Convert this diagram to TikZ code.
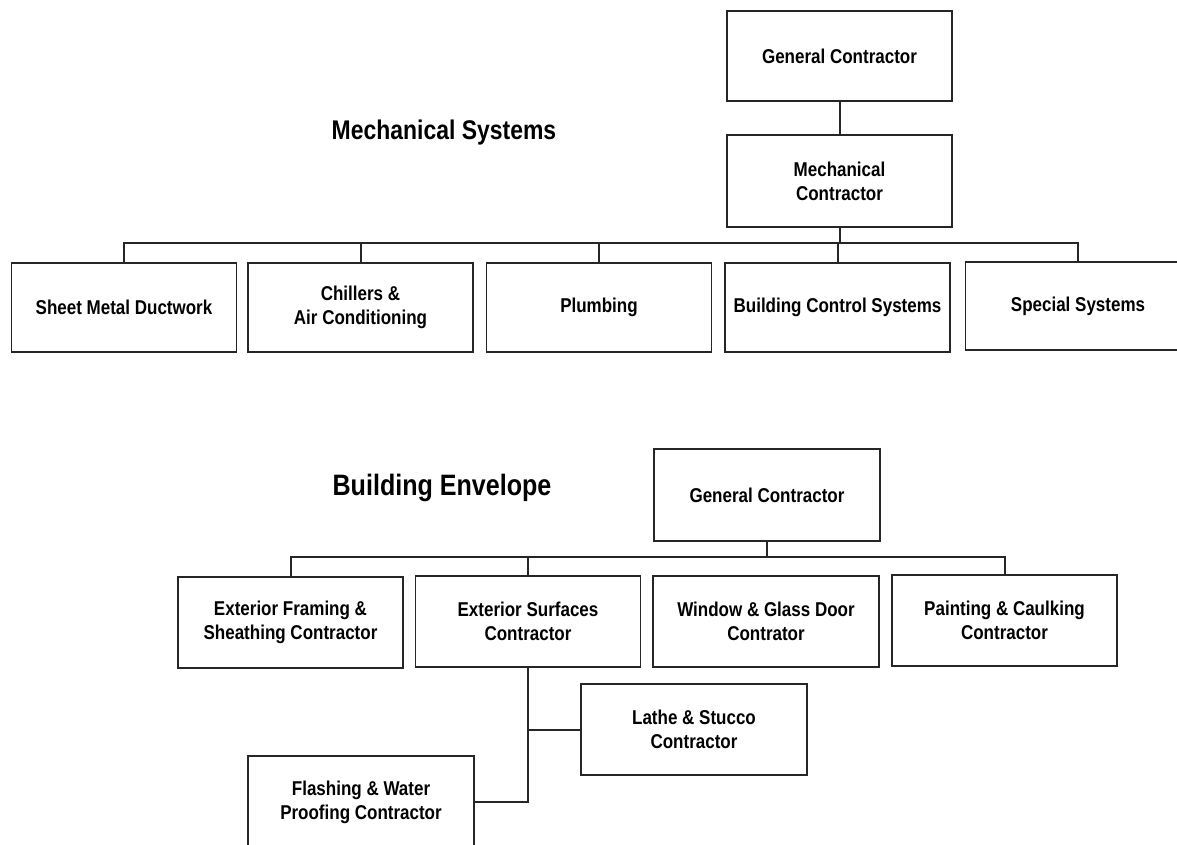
\documentclass[tikz,border=0pt]{standalone}
\usepackage{fontspec}
\newfontfamily\narrowsans{Liberation Sans}[FakeStretch=0.85]
\begin{document}
\begin{tikzpicture}[x=1pt,y=-1pt,
  box/.style={draw=black!85, line width=1.9pt, fill=white, inner sep=0pt, align=center,
    minimum width=225pt, minimum height=90pt,
    font=\narrowsans\bfseries\fontsize{20}{24}\selectfont},
  title/.style={font=\narrowsans\bfseries\fontsize{29.5}{34}\selectfont, inner sep=0pt},
  link/.style={draw=black!85, line width=2pt}]
\useasboundingbox (0,0) rectangle (1177,844);
\clip (0,0) rectangle (1177,844);
\fill[white] (0,0) rectangle (1177,844);

% ---------- Mechanical Systems ----------
\node[title, font=\narrowsans\bfseries\fontsize{27}{32}\selectfont] (t1) at (444,133) {Mechanical Systems};
\node[box] (gc1) at (839.5,56) {General Contractor};
\node[box, minimum height=92pt] (mc) at (839.5,181) {Mechanical\\Contractor};
\coordinate (bus1) at (0,243);
\node[box, minimum height=89pt] (sm) at (124,307.5) {Sheet Metal Ductwork};
\node[box, minimum height=89pt] (ch) at (360.5,307.5) {Chillers \&\\Air Conditioning};
\node[box, minimum height=89pt] (pl) at (599,307.5) {Plumbing};
\node[box, minimum height=89pt] (bcs) at (837.5,307.5) {Building Control Systems};
\node[box, minimum height=88pt] (ss) at (1078,306) {Special Systems};

\draw[link] (gc1) -- (mc);
\draw[link] (mc.south) -- (mc.south |- bus1);
\draw[link] (sm.north) -- (sm.north |- bus1) -- (ss.north |- bus1) -- (ss.north);
\draw[link] (ch.north) -- (ch.north |- bus1);
\draw[link] (pl.north) -- (pl.north |- bus1);
\draw[link] (bcs.north) -- (bcs.north |- bus1);

% ---------- Building Envelope ----------
\node[title] (t2) at (442,488) {Building Envelope};
\node[box, minimum height=92pt, minimum width=226pt] (gc2) at (767,495) {General Contractor};
\coordinate (bus2) at (0,557);
\node[box, minimum height=91pt] (ef) at (290.5,622.5) {Exterior Framing \&\\Sheathing Contractor};
\node[box, minimum height=91pt] (es) at (528,621.5) {Exterior Surfaces\\Contractor};
\node[box, minimum height=91pt, minimum width=226pt] (wd) at (766,621.5) {Window \& Glass Door\\Contrator};
\node[box, minimum height=91pt] (pc) at (1004.5,620.5) {Painting \& Caulking\\Contractor};
\node[box, minimum height=91pt, minimum width=226pt] (ls) at (694,729.5) {Lathe \& Stucco\\Contractor};
\node[box, minimum height=92pt, minimum width=226pt] (fw) at (361,802) {Flashing \& Water\\Proofing Contractor};

\draw[link] (gc2.south) -- (gc2.south |- bus2);
\draw[link] (ef.north) -- (ef.north |- bus2) -- (pc.north |- bus2) -- (pc.north);
\draw[link] (es.north) -- (es.north |- bus2);
\draw[link] (es.south) |- (fw.east);
\draw[link] (es.south |- ls.west) -- (ls.west);
\end{tikzpicture}
\end{document}
